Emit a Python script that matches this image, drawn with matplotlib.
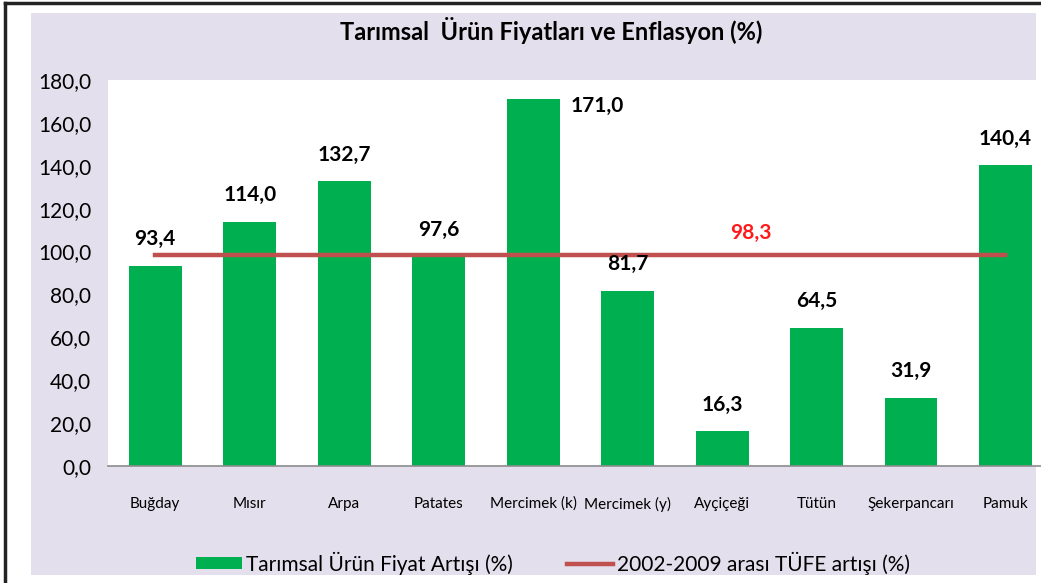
import matplotlib.pyplot as plt
from matplotlib.patches import Rectangle
from matplotlib.lines import Line2D

# Data
urunler = ["Buğday", "Mısır", "Arpa", "Patates", "Mercimek (k)", "Mercimek (y)",
           "Ayçiçeği", "Tütün", "Şekerpancarı", "Pamuk"]
fiyat_artisi = [93.4, 114.0, 132.7, 97.6, 171.0, 81.7, 16.3, 64.5, 31.9, 140.4]
tufe = 98.3
yticks = [0, 20, 40, 60, 80, 100, 120, 140, 160, 180]

green = "#00b050"
red_line = "#c0504d"
lavender = "#e4dfec"

plt.rcParams['font.family'] = ['Lato', 'DejaVu Sans']

fig = plt.figure(figsize=(10.41, 5.83), dpi=100)
fig.patch.set_facecolor("white")

# lavender chart panel and black frame
fig.add_artist(Rectangle((31 / 1041, 8 / 583), 1005 / 1041, 562 / 583,
                         transform=fig.transFigure, facecolor=lavender,
                         edgecolor="none", zorder=-10))
fig.add_artist(Line2D([5 / 1041, 5 / 1041], [0, 580 / 583], color="#222222",
                      lw=2.5, transform=fig.transFigure))
fig.add_artist(Line2D([5 / 1041, 1], [580 / 583, 580 / 583], color="#222222",
                      lw=2.5, transform=fig.transFigure))

ax = fig.add_axes([108 / 1041, 117 / 583, 933 / 1041, 386 / 583])
ax.set_zorder(1)
ax.set_facecolor("white")

x = list(range(len(urunler)))
bars = ax.bar(x, fiyat_artisi, width=0.56, color=green, zorder=2)
line, = ax.plot([x[0], x[-1]], [tufe, tufe], color=red_line, lw=3.2, zorder=3)

ymax = yticks[-1]
for xi, v in zip(x, fiyat_artisi):
    txt = f"{v:.1f}".replace(".", ",")
    if v > ymax - 15:
        ax.annotate(txt, (xi + 0.28, v), xytext=(8, -5), textcoords="offset points",
                    ha="left", va="center", fontsize=15, fontweight="bold")
    else:
        ax.annotate(txt, (xi, v), xytext=(0, 19), textcoords="offset points",
                    ha="center", va="center", fontsize=15, fontweight="bold")

ax.annotate(f"{tufe:.1f}".replace(".", ","), (6.3, tufe), xytext=(0, 16),
            textcoords="offset points", color="#ff1a1a", fontsize=15,
            fontweight="bold", ha="center", va="center", zorder=4)

ax.set_xlim(-0.5, 9.376)
ax.set_ylim(0, ymax)
ax.set_yticks(yticks)
ax.set_yticklabels([f"{t:.1f}".replace(".", ",") for t in yticks], fontsize=15)
ax.set_xticks(x)
ax.set_xticklabels(urunler, fontsize=11)
ax.tick_params(axis="y", length=0, pad=12)
ax.tick_params(axis="x", length=0, pad=22)
for s in ["top", "right", "left"]:
    ax.spines[s].set_visible(False)
ax.spines["bottom"].set_color("#8c8c8c")
ax.spines["bottom"].set_linewidth(1.2)

fig.text(551 / 1041, 1 - 31 / 583, "Tarımsal  Ürün Fiyatları ve Enflasyon (%)",
         ha="center", va="center", fontsize=17, fontweight="bold")

fig.legend([bars, line], ["Tarımsal Ürün Fiyat Artışı (%)",
                          "2002-2009 arası TÜFE artışı (%)"],
           loc="center", bbox_to_anchor=(553 / 1041, 20 / 583), ncol=2,
           frameon=False, fontsize=15, handlelength=2.2, handleheight=0.5,
           columnspacing=2.6, handletextpad=0.2)

fig.savefig("out.png", dpi=100)
